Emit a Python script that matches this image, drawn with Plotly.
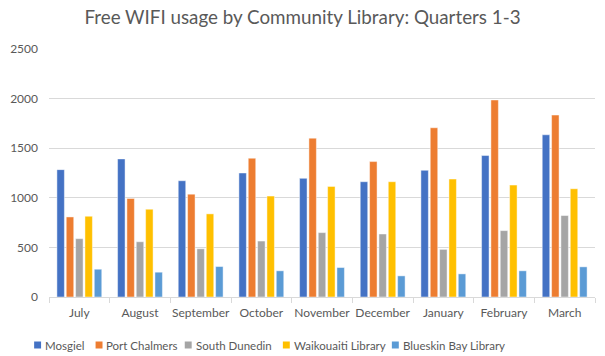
import plotly.graph_objects as go

months = ["July", "August", "September", "October", "November", "December",
          "January", "February", "March"]
mosgiel = [1284, 1392, 1172, 1250, 1196, 1162, 1277, 1426, 1635]
port_chalmers = [807, 993, 1037, 1399, 1601, 1365, 1706, 1986, 1834]
south_dunedin = [588, 557, 486, 564, 649, 635, 480, 669, 821]
waikouaiti = [814, 885, 838, 1017, 1115, 1162, 1189, 1128, 1091]
blueskin_bay = [280, 250, 307, 264, 297, 213, 233, 264, 304]

series = [
    ("Mosgiel", mosgiel, "#4472C4"),
    ("Port Chalmers", port_chalmers, "#ED7D31"),
    ("South Dunedin", south_dunedin, "#A5A5A5"),
    ("Waikouaiti Library", waikouaiti, "#FFC000"),
    ("Blueskin Bay Library", blueskin_bay, "#5B9BD5"),
]
# legend text left edges (pixels)
legend_px = [38, 100, 190, 289, 399]

W, H = 605, 356
L, R, T, B = 44, 10, 49, 59
pw = W - L - R
ph = H - T - B

fig = go.Figure()
for name, vals, col in series:
    fig.add_trace(go.Bar(
        x=months, y=vals, name=name, showlegend=False,
        marker=dict(color=col, line=dict(color="rgba(255,255,255,0.45)", width=1)),
    ))

font = "Lato, Calibri, Carlito, sans-serif"
LY = 345
ly = ((H - B) - LY) / ph
for (name, vals, col), px in zip(series, legend_px):
    fig.add_shape(
        type="rect", xref="paper", yref="paper",
        x0=(px - 9 - L) / pw, x1=(px - 2 - L) / pw,
        y0=((H - B) - (LY + 3.5)) / ph, y1=((H - B) - (LY - 3.5)) / ph,
        fillcolor=col, line=dict(width=0),
    )
    fig.add_annotation(
        text=name, x=(px - L) / pw, xref="paper", xanchor="left",
        y=ly, yref="paper", yanchor="middle",
        showarrow=False, font=dict(family=font, size=11.5, color="#595959"),
    )

fig.update_layout(
    width=W, height=H,
    margin=dict(l=L, r=R, t=T, b=B),
    paper_bgcolor="white", plot_bgcolor="white",
    barmode="group", bargap=0.23, bargroupgap=0.2,
    font=dict(family=font, size=12, color="#595959"),
    title=dict(text="Free WIFI usage by Community Library: Quarters 1-3",
               x=0.5, xref="container", xanchor="center",
               y=1 - 17 / H, yref="container", yanchor="middle",
               font=dict(family=font, size=18.8, color="#595959")),
    showlegend=False,
    xaxis=dict(showgrid=False, showline=True, linecolor="#D9D9D9", linewidth=1,
               ticks="outside", tickson="boundaries", ticklen=5, tickcolor="#D9D9D9",
               tickangle=0, ticklabelstandoff=5,
               tickfont=dict(size=12, color="#595959")),
    yaxis=dict(range=[0, 2500], dtick=500, showgrid=True, gridcolor="#D9D9D9",
               gridwidth=1, zeroline=False, showline=False, ticks="",
               ticklabelstandoff=10,
               tickfont=dict(size=12, color="#595959")),
)
fig.write_html("out.html")
